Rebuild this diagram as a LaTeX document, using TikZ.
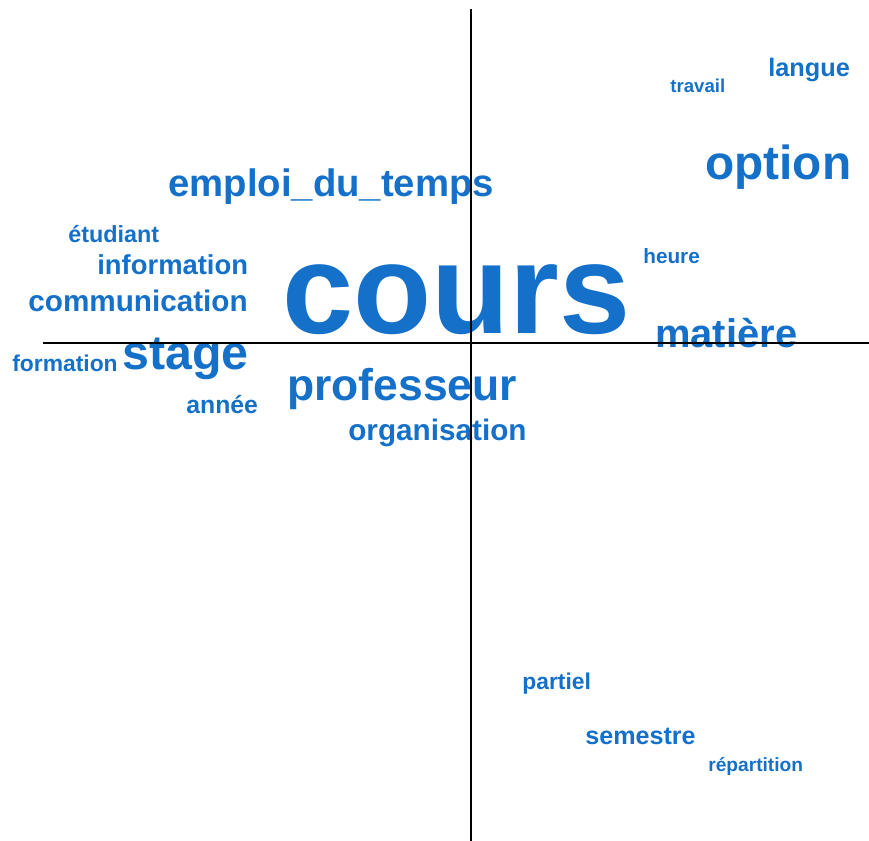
\documentclass[tikz,border=0pt]{standalone}
\usepackage{fontspec}
\setmainfont{Liberation Sans}
\definecolor{motbleu}{RGB}{20,112,200}
\tikzset{
	mot/.style={text=motbleu, anchor=base west, inner sep=0pt,
		font=\bfseries\fontsize{#1}{#1}\selectfont},
	axe/.style={draw=black, line width=0.8pt}
}
\begin{document}
\begin{tikzpicture}[x=0.02cm, y=-0.02cm]
				\useasboundingbox (0,0) rectangle (869,841);
				% words
				\node[mot=72.8] (cours) at (282,334) {cours};
				\node[mot=21.8] (emploi) at (168,197) {emploi\_du\_temps};
				\node[mot=27.2] (option) at (705,180) {option};
				\node[mot=14.4] (langue) at (768,77) {langue};
				\node[mot=10.6] (travail) at (670,93) {travail};
				\node[mot=11.8] (heure) at (643,264) {heure};
				\node[mot=22.7] (matiere) at (655,347) {matière};
				\node[mot=13.3] (etudiant) at (68,243) {étudiant};
				\node[mot=15.6] (information) at (97,275) {information};
				\node[mot=16.9] (communication) at (28,312) {communication};
				\node[mot=27.5] (stage) at (122,369) {stage};
				\node[mot=13.0] (formation) at (12,371) {formation};
				\node[mot=14.1] (annee) at (186,413) {année};
				\node[mot=25.3] (professeur) at (287,400) {professeur};
				\node[mot=16.9] (organisation) at (348,440) {organisation};
				\node[mot=13.0] (partiel) at (522,689) {partiel};
				\node[mot=14.3] (semestre) at (585,744) {semestre};
				\node[mot=10.9] (repartition) at (708,771) {répartition};
				% axes
				\coordinate (haut) at (471,9);
				\coordinate (bas) at (471,841);
				\coordinate (gauche) at (43,343);
				\coordinate (droite) at (869,343);
				\draw[axe] (haut) -- (bas);
				\draw[axe] (gauche) -- (droite);
			\end{tikzpicture}
\end{document}
